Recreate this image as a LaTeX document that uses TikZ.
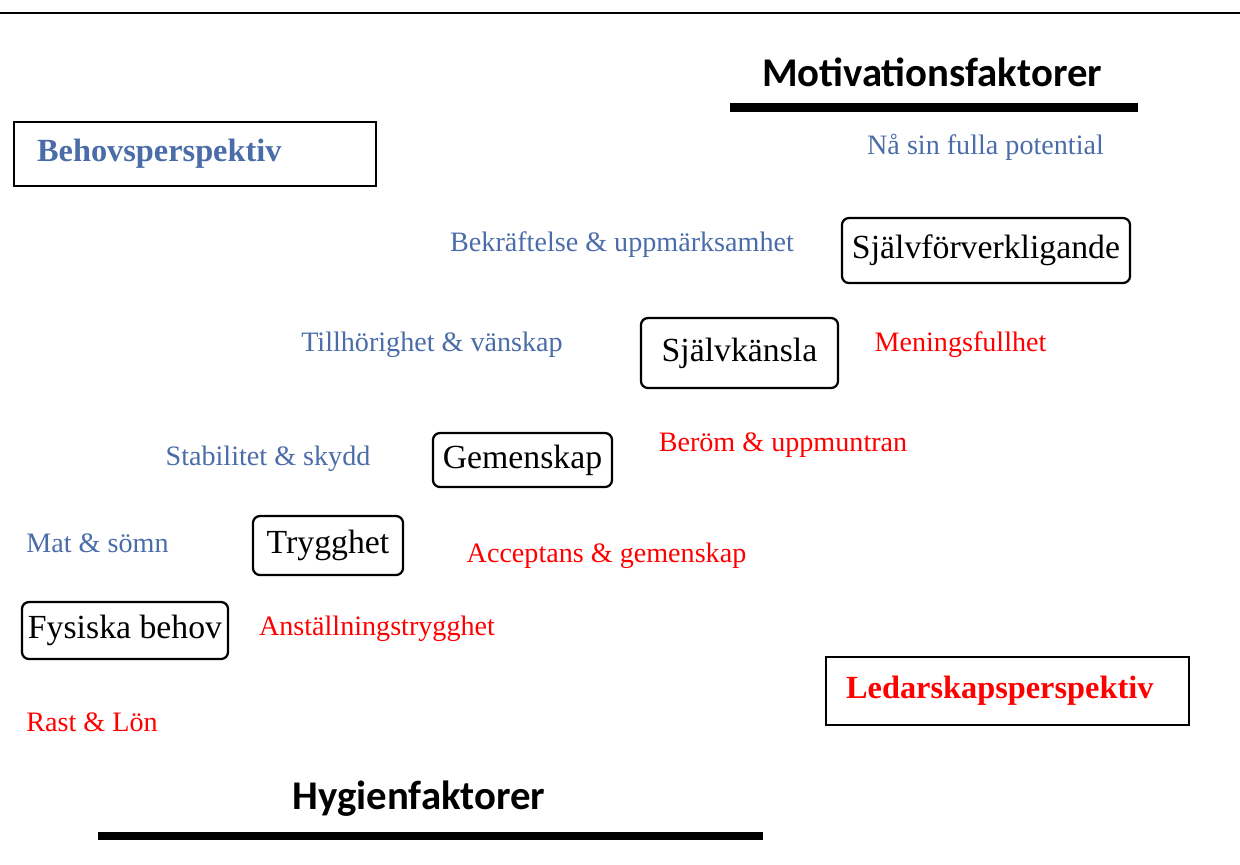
\documentclass[tikz,border=0pt]{standalone}
\usepackage{fontspec}
\setmainfont{Liberation Serif}
\newfontfamily\headfont{Carlito}
\usepackage{tikz}
\usetikzlibrary{positioning}
\definecolor{needblue}{RGB}{74,108,168}
\definecolor{leadred}{RGB}{255,0,0}

\tikzset{
  needbox/.style={draw, line width=1.6pt, rounded corners=5pt, inner sep=0pt,
    font=\fontsize{24}{28}\selectfont},
  perspbox/.style={draw, line width=1.6pt, inner ysep=0pt, align=left,
    font=\fontsize{23}{27}\selectfont\bfseries},
  needlabel/.style={text=needblue, inner sep=0pt, font=\fontsize{20}{24}\selectfont},
  leadlabel/.style={text=leadred, inner sep=0pt, font=\fontsize{20}{24}\selectfont},
  heading/.style={inner sep=0pt, font=\fontsize{29}{34}\selectfont\headfont\bfseries},
  headbar/.style={line width=5.7pt}
}

\begin{document}
\begin{tikzpicture}[x=0.025cm, y=-0.025cm]
    \useasboundingbox (0,0) rectangle (1240,864);
    % rule at the top
    \coordinate (topL) at (0,13);
    \coordinate (topR) at (1240,13);
    \draw[line width=2.1pt] (topL) -- (topR);

    % headings
    \node[heading] (motiv) at (932,72) {Motivationsfaktorer};
    \coordinate (motivL) at (730,107.5);
    \coordinate (motivR) at (1138,107.5);
    \draw[headbar] (motivL) -- (motivR);
    \node[heading] (hygien) at (419,799) {Hygienfaktorer};
    \coordinate (hygienL) at (98,836);
    \coordinate (hygienR) at (763,836);
    \draw[headbar] (hygienL) -- (hygienR);

    % perspectives
    \node[perspbox, text=needblue, anchor=west, minimum height=1.6cm,
      inner xsep=0.575cm, text width=7.9cm] (behov) at (13,154) {Behovsperspektiv};
    \node[perspbox, text=leadred, anchor=west, minimum height=1.7cm,
      inner xsep=0.5cm, text width=8.075cm] (ledar) at (825,691) {Ledarskapsperspektiv};

    % the steps
    \node[needbox, minimum width=7.2cm, minimum height=1.625cm] (sjalvf) at (986,250.5) {Självförverkligande};
    \node[needbox, minimum width=4.925cm, minimum height=1.75cm] (sjalvk) at (739.5,353) {Självkänsla};
    \node[needbox, minimum width=4.475cm, minimum height=1.35cm] (gemen) at (522.5,460) {Gemenskap};
    \node[needbox, minimum width=3.75cm, minimum height=1.475cm] (trygg) at (328,545.5) {Trygghet};
    \node[needbox, minimum width=5.15cm, minimum height=1.425cm] (fysisk) at (125,630.5) {Fysiska behov};

    % needs
    \node[needlabel] (potential) at (985.5,147) {Nå sin fulla potential};
    \node[needlabel] (bekr) at (622,245) {Bekräftelse \& uppmärksamhet};
    \node[needlabel] (tillh) at (432,345) {Tillhörighet \& vänskap};
    \node[needlabel] (stabil) at (268,459) {Stabilitet \& skydd};
    \node[needlabel] (mat) at (97.5,543) {Mat \& sömn};

    % what the leader gives
    \node[leadlabel] (mening) at (960.5,345) {Meningsfullhet};
    \node[leadlabel] (berom) at (783,445) {Beröm \& uppmuntran};
    \node[leadlabel] (accept) at (606.5,556) {Acceptans \& gemenskap};
    \node[leadlabel] (anst) at (377,629) {Anställningstrygghet};
    \node[leadlabel] (rast) at (92,722) {Rast \& Lön};
\end{tikzpicture}
\end{document}
